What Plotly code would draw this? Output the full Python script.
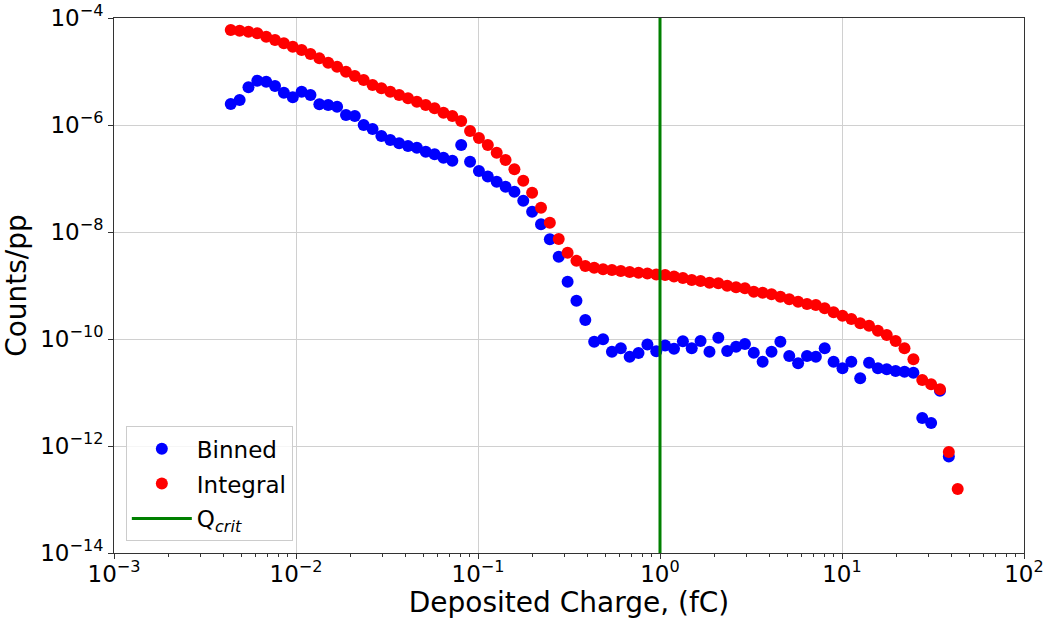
import plotly.graph_objects as go

# Deposited charge bin centres (fC)
charge_fc = [
    0.00438, 0.00490, 0.00548, 0.00613, 0.00686, 0.00767, 0.00858, 0.00960,
    0.01074, 0.01201, 0.01344, 0.01503, 0.01682, 0.01882, 0.02105, 0.02354,
    0.02634, 0.02946, 0.03296, 0.03687, 0.04126, 0.04615, 0.05163, 0.05776,
    0.06461, 0.07228, 0.08086, 0.09046, 0.1012, 0.1132, 0.1267, 0.1417,
    0.1585, 0.1773, 0.1983, 0.2219, 0.2482, 0.2777, 0.3107, 0.3475,
    0.3888, 0.4349, 0.4866, 0.5444, 0.6090, 0.6813, 0.7621, 0.8526,
    0.9538, 1.067, 1.194, 1.336, 1.494, 1.671, 1.870, 2.092,
    2.340, 2.618, 2.929, 3.276, 3.664, 4.100, 4.586, 5.131,
    5.740, 6.422, 7.184, 8.035, 8.989, 10.06, 11.25, 12.59,
    14.08, 15.75, 17.62, 19.71, 22.05, 24.68, 27.60, 30.88,
    34.54, 38.64, 43.23,
]

# Counts per primary in each charge bin
binned = [
    2.47e-6, 2.93e-6, 5.07e-6, 6.73e-6, 6.45e-6, 5.36e-6, 4.02e-6, 3.29e-6,
    4.19e-6, 3.64e-6, 2.44e-6, 2.36e-6, 2.20e-6, 1.54e-6, 1.47e-6, 1.00e-6,
    8.42e-7, 6.23e-7, 5.24e-7, 4.55e-7, 4.05e-7, 3.76e-7, 3.17e-7, 2.83e-7,
    2.45e-7, 2.15e-7, 4.23e-7, 2.06e-7, 1.38e-7, 1.09e-7, 8.71e-8, 7.03e-8,
    5.67e-8, 3.85e-8, 2.40e-8, 1.39e-8, 7.31e-9, 3.45e-9, 1.18e-9, 5.20e-10,
    2.26e-10, 8.90e-11, 9.87e-11, 5.79e-11, 6.70e-11, 4.67e-11, 5.47e-11, 7.89e-11,
    5.89e-11, 7.56e-11, 6.56e-11, 9.06e-11, 6.70e-11, 9.18e-11, 5.79e-11, 1.06e-10,
    5.97e-11, 7.18e-11, 8.06e-11, 5.54e-11, 3.76e-11, 5.79e-11, 8.90e-11, 4.81e-11,
    3.51e-11, 4.81e-11, 4.67e-11, 6.70e-11, 3.76e-11, 2.83e-11, 3.76e-11, 1.84e-11,
    3.61e-11, 2.83e-11, 2.71e-11, 2.52e-11, 2.45e-11, 2.34e-11, 3.34e-12, 2.69e-12,
    1.08e-11, 6.36e-13,
]

# Cumulative counts per primary above each charge
integral = [
    5.97e-5, 5.79e-5, 5.54e-5, 5.18e-5, 4.47e-5, 3.88e-5, 3.37e-5, 2.91e-5,
    2.52e-5, 2.12e-5, 1.76e-5, 1.46e-5, 1.23e-5, 9.92e-6, 8.24e-6, 6.94e-6,
    5.59e-6, 4.85e-6, 4.19e-6, 3.64e-6, 3.16e-6, 2.73e-6, 2.36e-6, 2.05e-6,
    1.70e-6, 1.47e-6, 1.19e-6, 7.73e-7, 5.71e-7, 4.23e-7, 3.04e-7, 2.22e-7,
    1.49e-7, 9.10e-8, 5.43e-8, 2.85e-8, 1.49e-8, 7.40e-9, 4.10e-9, 2.91e-9,
    2.31e-9, 2.15e-9, 2.01e-9, 1.95e-9, 1.87e-9, 1.79e-9, 1.73e-9, 1.68e-9,
    1.61e-9, 1.57e-9, 1.47e-9, 1.38e-9, 1.27e-9, 1.21e-9, 1.13e-9, 1.10e-9,
    9.92e-10, 9.26e-10, 8.87e-10, 7.66e-10, 7.34e-10, 6.85e-10, 6.18e-10, 5.52e-10,
    4.98e-10, 4.51e-10, 4.32e-10, 3.75e-10, 3.16e-10, 2.73e-10, 2.36e-10, 1.97e-10,
    1.77e-10, 1.43e-10, 1.19e-10, 9.18e-11, 6.70e-11, 4.17e-11, 1.71e-11, 1.42e-11,
    1.15e-11, 7.73e-13, 1.57e-13,
]

q_crit = 1.0
y_span = [1e-14, 1e-4]

x_ticks = [1e-3, 1e-2, 1e-1, 1e0, 1e1, 1e2]
x_labels = ["10<sup>−3</sup>", "10<sup>−2</sup>", "10<sup>−1</sup>",
            "10<sup>0</sup>", "10<sup>1</sup>", "10<sup>2</sup>"]
y_ticks = [1e-14, 1e-12, 1e-10, 1e-8, 1e-6, 1e-4]
y_labels = ["10<sup>−14</sup>", "10<sup>−12</sup>", "10<sup>−10</sup>",
            "10<sup>−8</sup>", "10<sup>−6</sup>", "10<sup>−4</sup>"]

font = "DejaVu Sans"

fig = go.Figure()
fig.add_trace(go.Scatter(
    x=charge_fc[:len(binned)], y=binned, mode="markers", name="Binned",
    legendgroup="binned",
    marker=dict(color="#0000ff", size=12, line=dict(width=0)),
))
fig.add_trace(go.Scatter(
    x=charge_fc, y=integral, mode="markers", name="Integral",
    legendgroup="integral",
    marker=dict(color="#ff0000", size=12, line=dict(width=0)),
))
fig.add_trace(go.Scatter(
    x=[q_crit, q_crit], y=y_span, mode="lines", name="Q<sub><i>crit</i></sub>",
    legendgroup="qcrit",
    line=dict(color="#008000", width=3),
))

axis_common = dict(
    type="log",
    automargin=False,
    showline=True, mirror=True, linecolor="#333333", linewidth=1,
    ticks="outside", ticklen=5, tickwidth=1, tickcolor="#333333",
    showgrid=True, gridcolor="#d0d0d0", gridwidth=1,
    zeroline=False,
    tickfont=dict(family=font, size=23, color="black"),
)

fig.update_xaxes(
    **axis_common,
    range=[-3, 2],
    tickmode="array", tickvals=x_ticks, ticktext=x_labels,
    ticklabelstandoff=-5,
    minor=dict(ticks="outside", ticklen=3, tickwidth=1, tickcolor="#333333",
               dtick="D1", showgrid=False),
    title=dict(text="Deposited Charge, (fC)", font=dict(family=font, size=28, color="black"),
               standoff=4),
)
fig.update_yaxes(
    **axis_common,
    range=[-14, -4],
    tickmode="array", tickvals=y_ticks, ticktext=y_labels,
    title=dict(text="Counts/pp", font=dict(family=font, size=28, color="black"),
               standoff=8),
)

fig.update_layout(
    width=1051, height=619,
    margin=dict(l=114, r=27, t=18, b=66),
    paper_bgcolor="white", plot_bgcolor="white",
    font=dict(family=font, color="black"),
    showlegend=True,
    legend=dict(
        x=0.013, y=0.022, xanchor="left", yanchor="bottom",
        bgcolor="rgba(255,255,255,0.8)", bordercolor="#cccccc", borderwidth=1,
        font=dict(family=font, size=23, color="black"),
        itemwidth=60, tracegroupgap=2,
    ),
)

fig.write_html("out.html")
